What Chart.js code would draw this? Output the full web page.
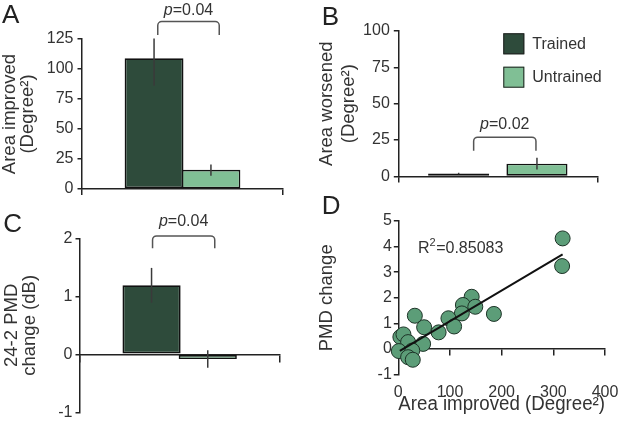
<!DOCTYPE html>
<html>
<head>
<meta charset="utf-8">
<script src="https://cdn.jsdelivr.net/npm/chart.js@4/dist/chart.umd.min.js"></script>
<style>
	body { margin: 0; background: #fff; }
	#fig { position: relative; width: 619px; height: 425px; overflow: hidden; }
	#fig canvas { position: absolute; }
</style>
</head>
<body>
<div id="fig">
	<canvas id="panelA" width="300" height="205" style="left:0;top:0"></canvas>
	<canvas id="panelB" width="309" height="190" style="left:310px;top:0"></canvas>
	<canvas id="panelC" width="300" height="220" style="left:0;top:205px"></canvas>
	<canvas id="panelD" width="309" height="235" style="left:310px;top:190px"></canvas>
</div>
<script>
// groups
const groups = ['Trained', 'Untrained'];

// A: area improved (bar, error bar low/high)
const areaImproved = [109, 16];
const areaImprovedLo = [86, 11];
const areaImprovedHi = [125.5, 20.5];

// B: area worsened
const areaWorsened = [2, 8.7];
const areaWorsenedLo = [1.5, 4.7];
const areaWorsenedHi = [2.5, 12.9];

// C: 24-2 PMD change
const pmdChange = [1.19, -0.08];
const pmdChangeLo = [0.89, -0.23];
const pmdChangeHi = [1.49, 0.07];

// p values for A, B, C
const pValues = ['0.04', '0.02', '0.04'];

// D: area improved vs PMD change
const scatterX = [318, 317, 142, 125, 149, 123, 185, 97, 32, 108, 50, 78, 4, 10, 48, 19, 1, 27, 19, 28];
const scatterY = [4.32, 3.24, 2.04, 1.72, 1.65, 1.39, 1.37, 1.2, 1.3, 0.88, 0.85, 0.65, 0.47, 0.57, 0.2, 0.27, -0.08, -0.06, -0.32, -0.42];
const fitX = [3, 318];
const fitY = [-0.07, 3.70];
const r2Value = '0.85083';

const darkGreen = '#2e4b3b';
const lightGreen = '#80bf95';
const axisColor = '#222';
const textColor = '#333';
const fontFamily = '"Liberation Sans", Arial, sans-serif';

Chart.defaults.font.family = fontFamily;
Chart.defaults.color = textColor;

// error bars, p bracket, legend, panel letter
const panelExtras = {
	id: 'panelExtras',
	afterDatasetsDraw(chart, args, opts) {
		var ctx = chart.ctx;
		var y = chart.scales.y;

		if (opts.lo) {
			chart.data.datasets.forEach(function(ds, i) {
				var bar = chart.getDatasetMeta(i).data[0];
				ctx.save();
				ctx.strokeStyle = '#3a3a3a';
				ctx.lineWidth = 1.5;
				ctx.beginPath();
				ctx.moveTo(bar.x, y.getPixelForValue(opts.lo[i]));
				ctx.lineTo(bar.x, y.getPixelForValue(opts.hi[i]));
				ctx.stroke();
				ctx.restore();
			});
		}

		if (opts.bracket) {
			var b = opts.bracket;
			var x1 = chart.getDatasetMeta(0).data[0].x + b.dx[0];
			var x2 = chart.getDatasetMeta(1).data[0].x + b.dx[1];
			var yt = y.getPixelForValue(b.top);
			var yb = y.getPixelForValue(b.bottom);
			var r = 4;
			ctx.save();
			ctx.strokeStyle = '#555';
			ctx.lineWidth = 1.5;
			ctx.beginPath();
			ctx.moveTo(x1, yb);
			ctx.lineTo(x1, yt + r);
			ctx.arcTo(x1, yt, x1 + r, yt, r);
			ctx.lineTo(x2 - r, yt);
			ctx.arcTo(x2, yt, x2, yt + r, r);
			ctx.lineTo(x2, yb);
			ctx.stroke();

			var label = '=' + b.p;
			ctx.font = 'italic 16px ' + fontFamily;
			var w1 = ctx.measureText('p').width;
			ctx.font = '16px ' + fontFamily;
			var w2 = ctx.measureText(label).width;
			var tx = (x1 + x2) / 2 - (w1 + w2) / 2;
			var ty = y.getPixelForValue(b.textY);
			ctx.fillStyle = textColor;
			ctx.textBaseline = 'alphabetic';
			ctx.textAlign = 'left';
			ctx.font = 'italic 16px ' + fontFamily;
			ctx.fillText('p', tx, ty);
			ctx.font = '16px ' + fontFamily;
			ctx.fillText(label, tx + w1, ty);
			ctx.restore();
		}

		if (opts.legend) {
			var lg = opts.legend;
			ctx.save();
			chart.data.datasets.forEach(function(ds, i) {
				var by = lg.y + i * lg.step;
				ctx.fillStyle = ds.backgroundColor;
				ctx.fillRect(lg.x, by, 21, 21);
				ctx.strokeStyle = '#222';
				ctx.lineWidth = 1;
				ctx.strokeRect(lg.x + 0.5, by + 0.5, 20, 20);
				ctx.fillStyle = textColor;
				ctx.font = '16px ' + fontFamily;
				ctx.textBaseline = 'middle';
				ctx.textAlign = 'left';
				ctx.fillText(ds.label, lg.x + 29, by + 11);
			});
			ctx.restore();
		}

		if (opts.r2) {
			var xr = opts.r2.x, yr = opts.r2.y;
			ctx.save();
			ctx.fillStyle = textColor;
			ctx.textBaseline = 'alphabetic';
			ctx.textAlign = 'left';
			ctx.font = '16px ' + fontFamily;
			ctx.fillText('R', xr, yr);
			var wR = ctx.measureText('R').width;
			ctx.font = '11px ' + fontFamily;
			ctx.fillText('2', xr + wR, yr - 7);
			var w2s = ctx.measureText('2').width;
			ctx.font = '16px ' + fontFamily;
			ctx.fillText('=' + r2Value, xr + wR + w2s + 0.5, yr);
			ctx.restore();
		}

		if (opts.letter) {
			ctx.save();
			ctx.fillStyle = '#222';
			ctx.font = '26px ' + fontFamily;
			ctx.textBaseline = 'alphabetic';
			ctx.textAlign = 'left';
			ctx.fillText(opts.letter.text, opts.letter.x, opts.letter.y);
			ctx.restore();
		}
	}
};

function yAxis(min, max, step, title, width, titlePad, lineHeight, tickPad) {
	return {
		min: min,
		max: max,
		afterFit: function(s) { s.width = width; },
		ticks: { stepSize: step, font: { size: 16 }, color: textColor, padding: tickPad },
		grid: { drawOnChartArea: false, tickLength: 4.5, color: axisColor, lineWidth: 1.5 },
		border: { color: axisColor, width: 1.5 },
		title: { display: true, text: title, font: { size: 18.5, lineHeight: lineHeight }, color: textColor, padding: { top: titlePad, bottom: 0 } }
	};
}

function barDatasets(values, catPct, barPct) {
	return [
		{ label: groups[0], data: [values[0]], backgroundColor: darkGreen, borderColor: '#111', borderWidth: 1.8, borderSkipped: false, inflateAmount: 0, categoryPercentage: catPct, barPercentage: barPct },
		{ label: groups[1], data: [values[1]], backgroundColor: lightGreen, borderColor: '#111', borderWidth: 1.6, borderSkipped: false, inflateAmount: 0, categoryPercentage: catPct, barPercentage: barPct }
	];
}

function barChart(id, values, opts) {
	var ctx = document.getElementById(id).getContext('2d');
	return new Chart(ctx, {
		type: 'bar',
		data: { labels: [''], datasets: barDatasets(values, opts.catPct, opts.barPct) },
		options: {
			responsive: false,
			animation: false,
			devicePixelRatio: 1,
			layout: { padding: opts.padding },
			scales: {
				x: opts.x,
				y: opts.y
			},
			plugins: {
				legend: { display: false },
				tooltip: { enabled: false },
				panelExtras: opts.extras
			}
		},
		plugins: [panelExtras]
	});
}

// Panel A
barChart('panelA', areaImproved, {
	padding: { top: 39, right: 17, bottom: 0, left: 0 },
	catPct: 0.566, barPct: 1.035,
	x: {
		afterFit: function(s) { s.height = 16; },
		ticks: { display: false },
		grid: { drawOnChartArea: false, tickLength: 6, color: axisColor, lineWidth: 1.5 },
		border: { color: axisColor, width: 1.5 }
	},
	y: yAxis(0, 125, 25, ['Area improved', '(Degree²)'], 82, 1, 0.96, 4),
	extras: {
		lo: areaImprovedLo, hi: areaImprovedHi,
		bracket: { dx: [3.7, 8.3], top: 139.5, bottom: 128.3, textY: 145, p: pValues[0] },
		letter: { text: 'A', x: 2, y: 23 }
	}
});

// Panel B
barChart('panelB', areaWorsened, {
	padding: { top: 31, right: 21.7, bottom: 0, left: 0 },
	catPct: 0.787, barPct: 0.78,
	x: {
		afterFit: function(s) { s.height = 9.7; },
		ticks: { display: false },
		grid: { drawOnChartArea: false, tickLength: 6, color: axisColor, lineWidth: 1.5 },
		border: { color: axisColor, width: 1.5 }
	},
	y: yAxis(0, 100, 25, ['Area worsened', '(Degree²)'], 88.3, 6, 1.19, 4),
	extras: {
		lo: areaWorsenedLo, hi: areaWorsenedHi,
		bracket: { dx: [15, -1], top: 27, bottom: 17.6, textY: 32.6, p: pValues[1] },
		legend: { x: 193.3, y: 33.3, step: 33.4 },
		letter: { text: 'B', x: 11.7, y: 25 }
	}
});

// Panel C
barChart('panelC', pmdChange, {
	padding: { top: 33.3, right: 20.7, bottom: 10, left: 0 },
	catPct: 0.564, barPct: 1.035,
	x: {
		position: { y: 0 },
		ticks: { display: false },
		grid: { drawOnChartArea: false, tickLength: 7, color: axisColor, lineWidth: 1.5 },
		border: { color: axisColor, width: 1.5 }
	},
	y: yAxis(-1, 2, 1, ['24-2 PMD', 'change (dB)'], 80, 3.5, 0.96, 3),
	extras: {
		lo: pmdChangeLo, hi: pmdChangeHi,
		bracket: { dx: [1, 7], top: 2.04, bottom: 1.83, textY: 2.21, p: pValues[2] },
		letter: { text: 'C', x: 3.3, y: 26.7 }
	}
});

// Panel D
var points = scatterX.map(function(x, i) { return { x: x, y: scatterY[i] }; });
var fitLine = fitX.map(function(x, i) { return { x: x, y: fitY[i] }; });

new Chart(document.getElementById('panelD').getContext('2d'), {
	type: 'scatter',
	data: {
		datasets: [
			{ data: fitLine, showLine: true, borderColor: '#111', borderWidth: 2, pointRadius: 0, clip: false },
			{ data: points, backgroundColor: '#5c9d78', borderColor: '#1d3327', borderWidth: 1, pointRadius: 7.5, clip: false }
		]
	},
	options: {
		responsive: false,
		animation: false,
		devicePixelRatio: 1,
		layout: { padding: { top: 31, right: 14, bottom: 0, left: 0 } },
		scales: {
			x: {
				type: 'linear',
				position: { y: 0 },
				min: 0, max: 400,
				ticks: { display: false, stepSize: 100 },
				grid: { drawOnChartArea: false, tickLength: 6, color: axisColor, lineWidth: 1.5 },
				border: { color: axisColor, width: 1.5 }
			},
			x2: {
				type: 'linear',
				position: 'bottom',
				min: 0, max: 400,
				afterFit: function(s) { s.height = 50.4; s.paddingLeft = 0; s.paddingRight = 0; },
				ticks: { stepSize: 100, font: { size: 16 }, color: textColor, padding: 8 },
				grid: { display: false, drawTicks: false },
				border: { display: false },
				title: { display: true, text: 'Area improved (Degree²)', font: { size: 19.5 }, color: textColor, padding: { top: 0, bottom: 8.3 } }
			},
			y: yAxis(-1, 5, 1, 'PMD change', 88.3, 6.3, 1.2, 2)
		},
		plugins: {
			legend: { display: false },
			tooltip: { enabled: false },
			panelExtras: {
				r2: { x: 108, y: 63.3 },
				letter: { text: 'D', x: 11.7, y: 23.6 }
			}
		}
	},
	plugins: [panelExtras]
});
</script>
</body>
</html>
